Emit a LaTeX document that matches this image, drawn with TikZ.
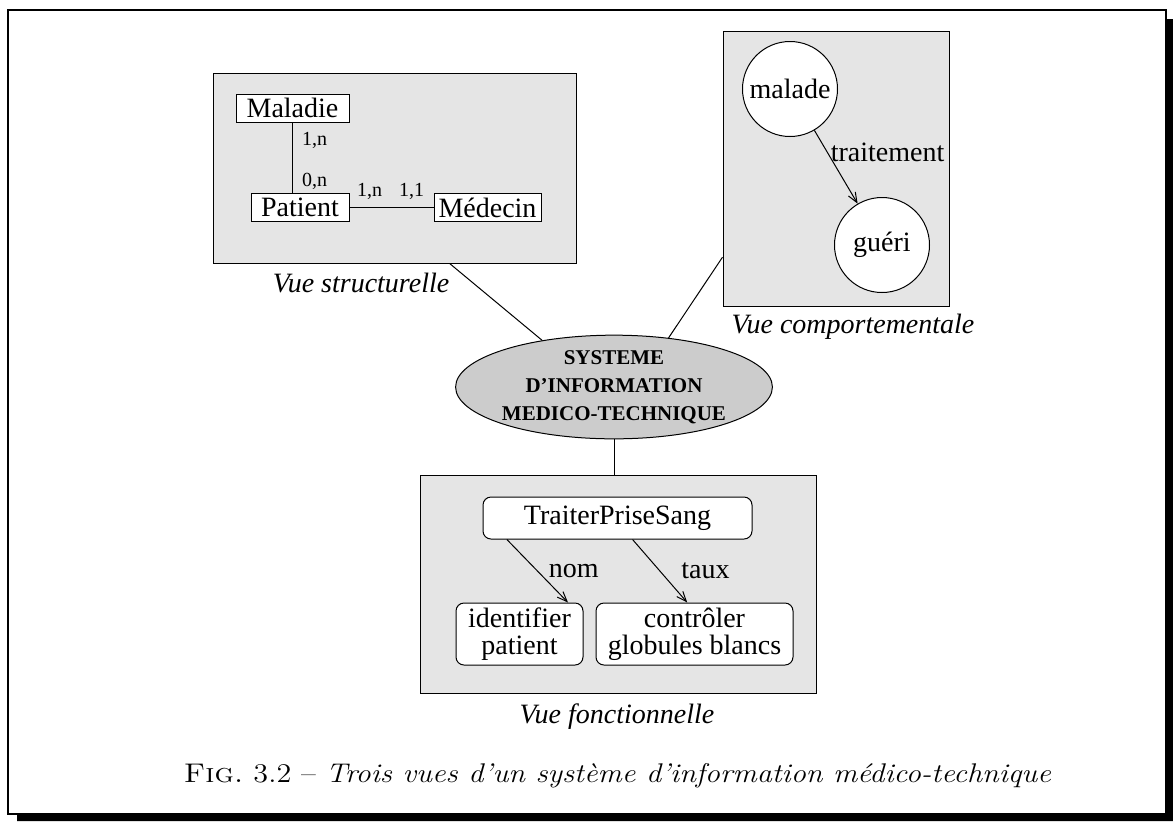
\documentclass[tikz,border=0pt]{standalone}
\usepackage{fontspec}
\newfontfamily\figfont{Liberation Serif}
\usetikzlibrary{shapes.geometric,arrows.meta}
\definecolor{fondvue}{gray}{0.9}
\definecolor{fondsi}{gray}{0.8}
\tikzset{
  vue/.style={draw,fill=fondvue,inner sep=0pt},
  entite/.style={draw,fill=white,inner sep=0pt,minimum height=14pt,font=\figfont\fontsize{14}{14}\selectfont},
  card/.style={inner sep=1.5pt,font=\figfont\fontsize{10}{10}\selectfont},
  etat/.style={circle,draw,fill=white,minimum size=47.5pt,inner sep=0pt,font=\figfont\fontsize{14}{14}\selectfont},
  fonction/.style={draw,fill=white,rounded corners=4pt,align=center,inner sep=0pt,font=\figfont\fontsize{14}{13.5}\selectfont},
  systeme/.style={ellipse,draw,fill=fondsi,minimum width=154pt,minimum height=48pt,inner sep=0pt,align=center,font=\figfont\bfseries\fontsize{10.5}{14}\selectfont},
  titre/.style={font=\figfont\itshape\fontsize{14}{14}\selectfont},
  lbl/.style={inner sep=1.5pt,font=\figfont\fontsize{14}{14}\selectfont},
  fleche/.style={-{Straight Barb[length=5pt,width=4pt]}}
}
\begin{document}
\begin{tikzpicture}[x=.5pt,y=-.5pt,line width=.5pt]
  \useasboundingbox(0,0)rectangle(1173,821);
  \draw[line width=1.2pt](8,10)rectangle(1166,814);
  \fill(1166,19)rectangle(1173,821) (17,814)rectangle(1173,821);

  \node[vue,minimum width=181.5pt,minimum height=95pt](structurelle)at(394.5,168){};
  \node[vue,minimum width=113pt,minimum height=137.5pt](comportementale)at(836,168.5){};
  \node[vue,minimum width=198pt,minimum height=109pt](fonctionnelle)at(618,584){};

  \node[entite,minimum width=56.5pt](maladie)at(292.5,108){Maladie};
  \node[entite,minimum width=49pt](patient)at(300,207.5){Patient};
  \node[entite,minimum width=53.5pt](medecin)at(487.5,207.5){Médecin};
  \draw(maladie.south)--node[card,right=3pt,pos=.25]{1,n}node[card,right=3pt,pos=.83]{0,n}(maladie.south|-patient.north);
  \draw(patient)--node[card,above=2pt,pos=.24]{1,n}node[card,above=2pt,pos=.74]{1,1}(medecin);
  \node[titre,anchor=base]at(361,292){Vue structurelle};

  \node[etat](malade)at(790,89){malade};
  \node[etat](gueri)at(882,245){guéri};
  \draw[fleche](malade)--node[lbl,pos=.3,right]{traitement}(gueri);
  \node[titre,anchor=base]at(853,333){Vue comportementale};

  \node[fonction,minimum width=134.5pt,minimum height=21pt](traiter)at(617.5,518){TraiterPriseSang};
  \node[fonction,minimum width=63.5pt,minimum height=31pt](identifier)at(519.5,634){identifier\\patient};
  \node[fonction,minimum width=98.5pt,minimum height=31pt](controler)at(694.5,634){contrôler\\globules blancs};
  \draw[fleche](traiter.191.9)--node[lbl,right=4pt]{nom}(identifier.33.1);
  \draw[fleche](traiter.-55.4)--node[lbl,right=9pt]{taux}(controler.103.6);
  \node[titre,anchor=base]at(617,723){Vue fonctionnelle};

  \node[systeme](si)at(614,387){SYSTEME\\D’INFORMATION\\MEDICO-TECHNIQUE};
  \draw(structurelle.-60.6)--(si.147);
  \draw(comportementale.218.4)--(si.42);
  \draw(si.south)--(si.south|-fonctionnelle.north);

  \node[anchor=base](legende)at(617.5,782){\scalebox{1.12}[1]{\fontsize{13.5}{16}\selectfont\textsc{Fig.}~3.2 -- \textit{Trois vues d'un système d'information médico-technique}}};
\end{tikzpicture}
\end{document}
